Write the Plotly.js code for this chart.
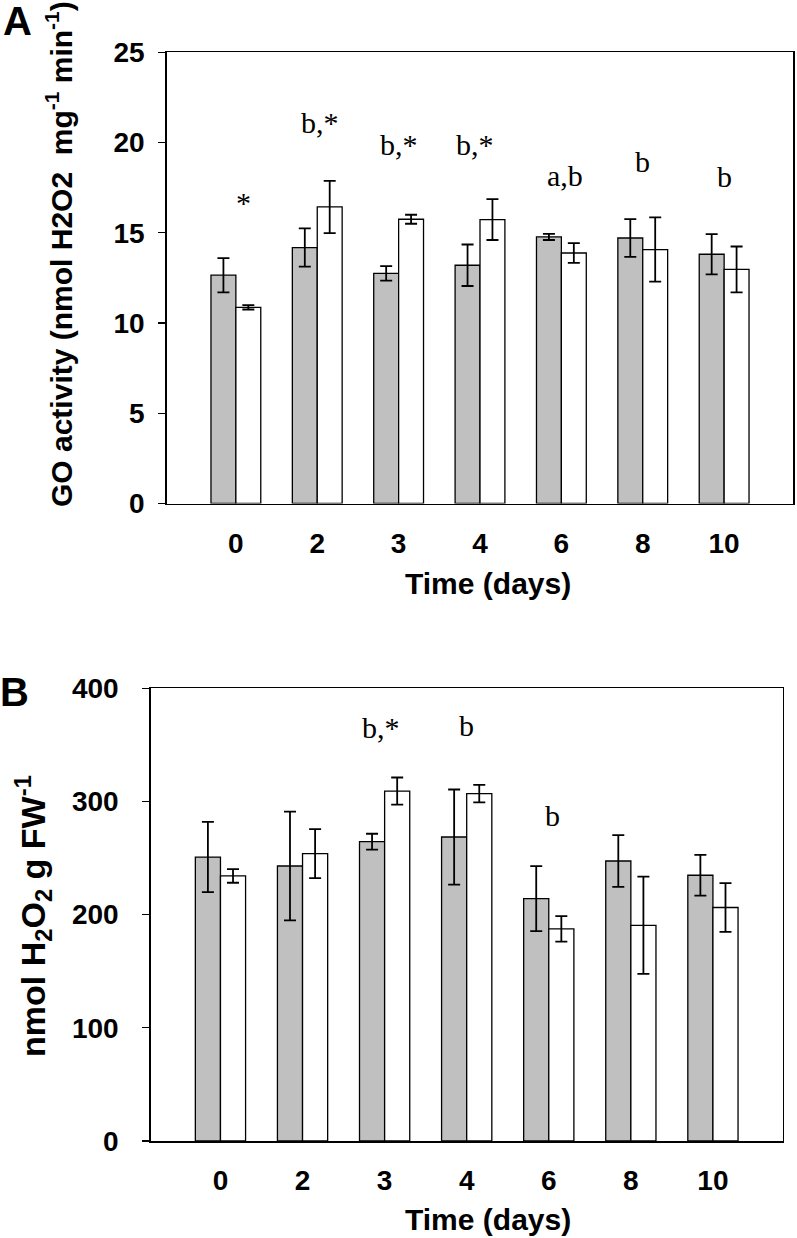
<!DOCTYPE html>
<html>
<head>
<meta charset="utf-8">
<script src="https://cdn.plot.ly/plotly-3.0.1.min.js"></script>
<style>
html,body{margin:0;padding:0;background:#fff;}
#chart{width:797px;height:1238px;}
</style>
</head>
<body>
<div id="chart"></div>
<script>
// ---------- data ----------
const days = ['0', '2', '3', '4', '6', '8', '10'];

// Panel A: GO activity (nmol H2O2 mg-1 min-1)
const goGrey = [12.65, 14.18, 12.75, 13.2, 14.77, 14.71, 13.81];
const goGreyErr = [0.95, 1.06, 0.4, 1.15, 0.17, 1.05, 1.12];
const goWhite = [10.87, 16.43, 15.75, 15.73, 13.88, 14.07, 12.97];
const goWhiteErr = [0.12, 1.45, 0.25, 1.13, 0.55, 1.78, 1.27];
const goMarks = ['*', 'b,*', 'b,*', 'b,*', 'a,b', 'b', 'b'];
const goMarkLevel = [16.7, 21.1, 19.9, 19.9, 18.2, 18.93, 18.1];
const goMarkShift = [0.09, 0.03, 0, -0.06, 0.04, 0, 0];

// Panel B: nmol H2O2 g FW-1
const hGrey = [250.9, 243, 264.5, 268.6, 214.2, 247.4, 234.8];
const hGreyErr = [31, 48, 7, 42, 28.7, 22.8, 18];
const hWhite = [234.2, 253.9, 309.2, 306.9, 187.4, 190.6, 206.3];
const hWhiteErr = [6, 21.7, 12, 7.7, 11.3, 43, 21.6];
const hMarks = ['', '', 'b,*', 'b', 'b', '', ''];
const hMarkLevel = [0, 0, 365, 366.7, 287.3, 0, 0];
const hMarkShift = [0, 0, -0.04, 0, 0.04, 0, 0];

const yTicksA = [0, 5, 10, 15, 20, 25];
const yTicksB = [0, 100, 200, 300, 400];

// ---------- helpers ----------
const W = 797, H = 1238;
const px = v => v / W;
const py = v => 1 - v / H;
const sans = 'Liberation Sans, Arial, sans-serif';
const serif = 'Liberation Serif, Times New Roman, serif';

function barTrace(y, err, color, xa, ya) {
  return {
    type: 'bar', x: days, y: y,
    xaxis: xa, yaxis: ya,
    marker: {color: color, line: {color: '#000', width: 1.3}},
    error_y: {type: 'data', array: err, visible: true, color: '#000', thickness: 1.8, width: 6},
    showlegend: false, hoverinfo: 'skip'
  };
}

const traces = [
  barTrace(goGrey, goGreyErr, '#c0c0c0', 'x', 'y'),
  barTrace(goWhite, goWhiteErr, '#ffffff', 'x', 'y'),
  barTrace(hGrey, hGreyErr, '#c0c0c0', 'x2', 'y2'),
  barTrace(hWhite, hWhiteErr, '#ffffff', 'x2', 'y2')
];

const markFont = {family: serif, size: 30, color: '#000'};
const annotations = [];
goMarks.forEach((t, i) => {
  if (!t) return;
  annotations.push({xref: 'x', yref: 'y', x: i + goMarkShift[i], y: goMarkLevel[i], text: t,
    xanchor: 'center', yanchor: 'middle', showarrow: false, font: markFont});
});
hMarks.forEach((t, i) => {
  if (!t) return;
  annotations.push({xref: 'x2', yref: 'y2', x: i + hMarkShift[i], y: hMarkLevel[i], text: t,
    xanchor: 'center', yanchor: 'middle', showarrow: false, font: markFont});
});

function paperText(x, y, text, font, angle) {
  annotations.push({xref: 'paper', yref: 'paper', x: px(x), y: py(y), text: text,
    xanchor: 'center', yanchor: 'middle', textangle: angle || 0, showarrow: false, font: font});
}
const titleFont = {family: sans, size: 30, color: '#000', weight: 'bold'};
const letterFont = {family: sans, size: 40, color: '#000', weight: 'bold'};
// panel letters
paperText(17, 21, 'A', letterFont);
paperText(15, 692, 'B', letterFont);
// axis titles
paperText(59, 254, 'GO activity (nmol H2O2 &nbsp;mg<sup>-1</sup> min<sup>-1</sup>)', titleFont, -90);
paperText(488, 583, 'Time (days)', titleFont);
paperText(33, 916, 'nmol H<sub>2</sub>O<sub>2</sub> g FW<sup>-1</sup>',
  {family: sans, size: 34, color: '#000', weight: 'bold'}, -90);
paperText(488, 1219, 'Time (days)', titleFont);

const tickFont = {family: sans, size: 28, color: '#000', weight: 'bold'};

function xAxis(domain, anchor) {
  return {
    domain: domain, anchor: anchor, type: 'category',
    range: [-0.85, 6.85],
    showline: true, linecolor: '#000', linewidth: 1.5, mirror: true,
    ticks: '', showgrid: false, zeroline: false,
    tickfont: tickFont, ticklabelstandoff: 14, fixedrange: true
  };
}
function yAxis(domain, anchor, range, tickvals, standoff) {
  return {
    domain: domain, anchor: anchor, range: range,
    tickvals: tickvals,
    showline: true, linecolor: '#000', linewidth: 1.5, mirror: true,
    ticks: 'outside', ticklen: 7, tickwidth: 1.3, tickcolor: '#000',
    showgrid: false, zeroline: false,
    tickfont: tickFont, ticklabelstandoff: standoff, fixedrange: true
  };
}

const layout = {
  width: W, height: H,
  margin: {l: 0, r: 0, t: 0, b: 0},
  paper_bgcolor: '#fff', plot_bgcolor: '#fff',
  barmode: 'group', bargap: 0.388, bargroupgap: 0,
  showlegend: false,
  xaxis: xAxis([px(166.7), px(793.3)], 'y'),
  yaxis: yAxis([py(503.5), py(52.3)], 'x', [0, 25], yTicksA, 8),
  xaxis2: xAxis([px(150.7), px(782.7)], 'y2'),
  yaxis2: yAxis([py(1141), py(688.3)], 'x2', [0, 400], yTicksB, 18),
  annotations: annotations
};

Plotly.newPlot('chart', traces, layout, {displayModeBar: false, staticPlot: true});
</script>
</body>
</html>
